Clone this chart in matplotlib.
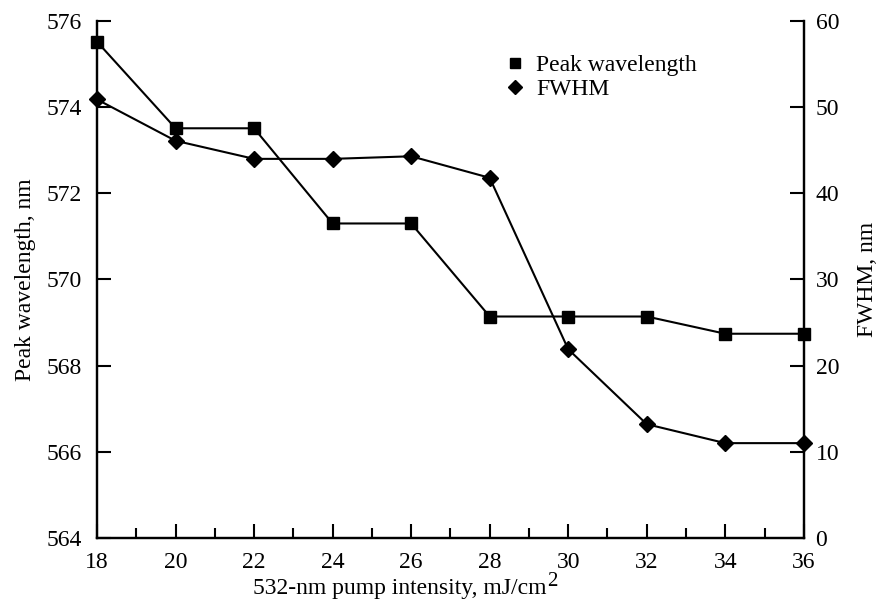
import matplotlib
matplotlib.use("Agg")
import matplotlib.pyplot as plt
from matplotlib.ticker import MultipleLocator
from matplotlib.lines import Line2D

plt.rcParams["font.family"] = ["Liberation Serif", "DejaVu Serif"]

intensity = [18, 20, 22, 24, 26, 28, 30, 32, 34, 36]
peak_wavelength = [575.52, 573.51, 573.51, 571.30, 571.30, 569.14, 569.14, 569.14, 568.74, 568.74]
fwhm = [50.9, 46.1, 44.0, 44.0, 44.3, 41.8, 21.9, 13.2, 11.0, 11.0]
series_labels = ["Peak wavelength", "FWHM"]

fs = 17
fig = plt.figure(figsize=(8.78, 6.01), dpi=100)
ax = fig.add_axes([0.1105, 0.105, 0.805, 0.86])
ax2 = ax.twinx()

lw = 1.5
ax.plot(intensity, peak_wavelength, color="black", lw=lw, marker="s",
        markersize=8, zorder=3, clip_on=False)
ax2.plot(intensity, fwhm, color="black", lw=lw, marker="D",
         markersize=8, zorder=3, clip_on=False)

ax.set_xlim(18, 36)
ax.set_ylim(564, 576)
ax2.set_ylim(0, 60)
ax.xaxis.set_major_locator(MultipleLocator(2))
ax.xaxis.set_minor_locator(MultipleLocator(1))
ax.yaxis.set_major_locator(MultipleLocator(2))
ax2.yaxis.set_major_locator(MultipleLocator(10))

for a in (ax, ax2):
    a.spines["top"].set_visible(False)
    for s in a.spines.values():
        s.set_linewidth(1.6)
    a.tick_params(direction="in", width=1.5, length=10, labelsize=fs)
    a.tick_params(which="minor", direction="in", width=1.5, length=7)
ax.tick_params(axis="x", pad=10)
ax.tick_params(axis="y", pad=11)
ax2.tick_params(axis="y", pad=8.5)

ax.set_ylabel("Peak wavelength, nm", fontsize=fs)
ax2.set_ylabel("FWHM, nm", fontsize=fs)
ax.yaxis.set_label_coords(-0.087, 0.5)
ax2.yaxis.set_label_coords(1.075, 0.5)

# x-axis title with a raised "2"
xtitle = fig.text(253 / 878, 1 - 594 / 601, "532-nm pump intensity, mJ/cm",
                  fontsize=fs, ha="left", va="baseline")
ax.annotate("2", xy=(1, 0), xycoords=xtitle, xytext=(0.5, 9),
            textcoords="offset points", fontsize=15, ha="left", va="baseline",
            annotation_clip=False)

handles = [Line2D([], [], color="black", marker="s", ls="none", markersize=7.5),
           Line2D([], [], color="black", marker="D", ls="none", markersize=7.5)]
ax2.legend(handles, series_labels, loc="upper left", bbox_to_anchor=(0.574, 0.935),
           frameon=False, fontsize=fs, handletextpad=0.43, handlelength=1.0,
           labelspacing=0.1, borderaxespad=0, borderpad=0)

fig.savefig("out.png", dpi=100)
